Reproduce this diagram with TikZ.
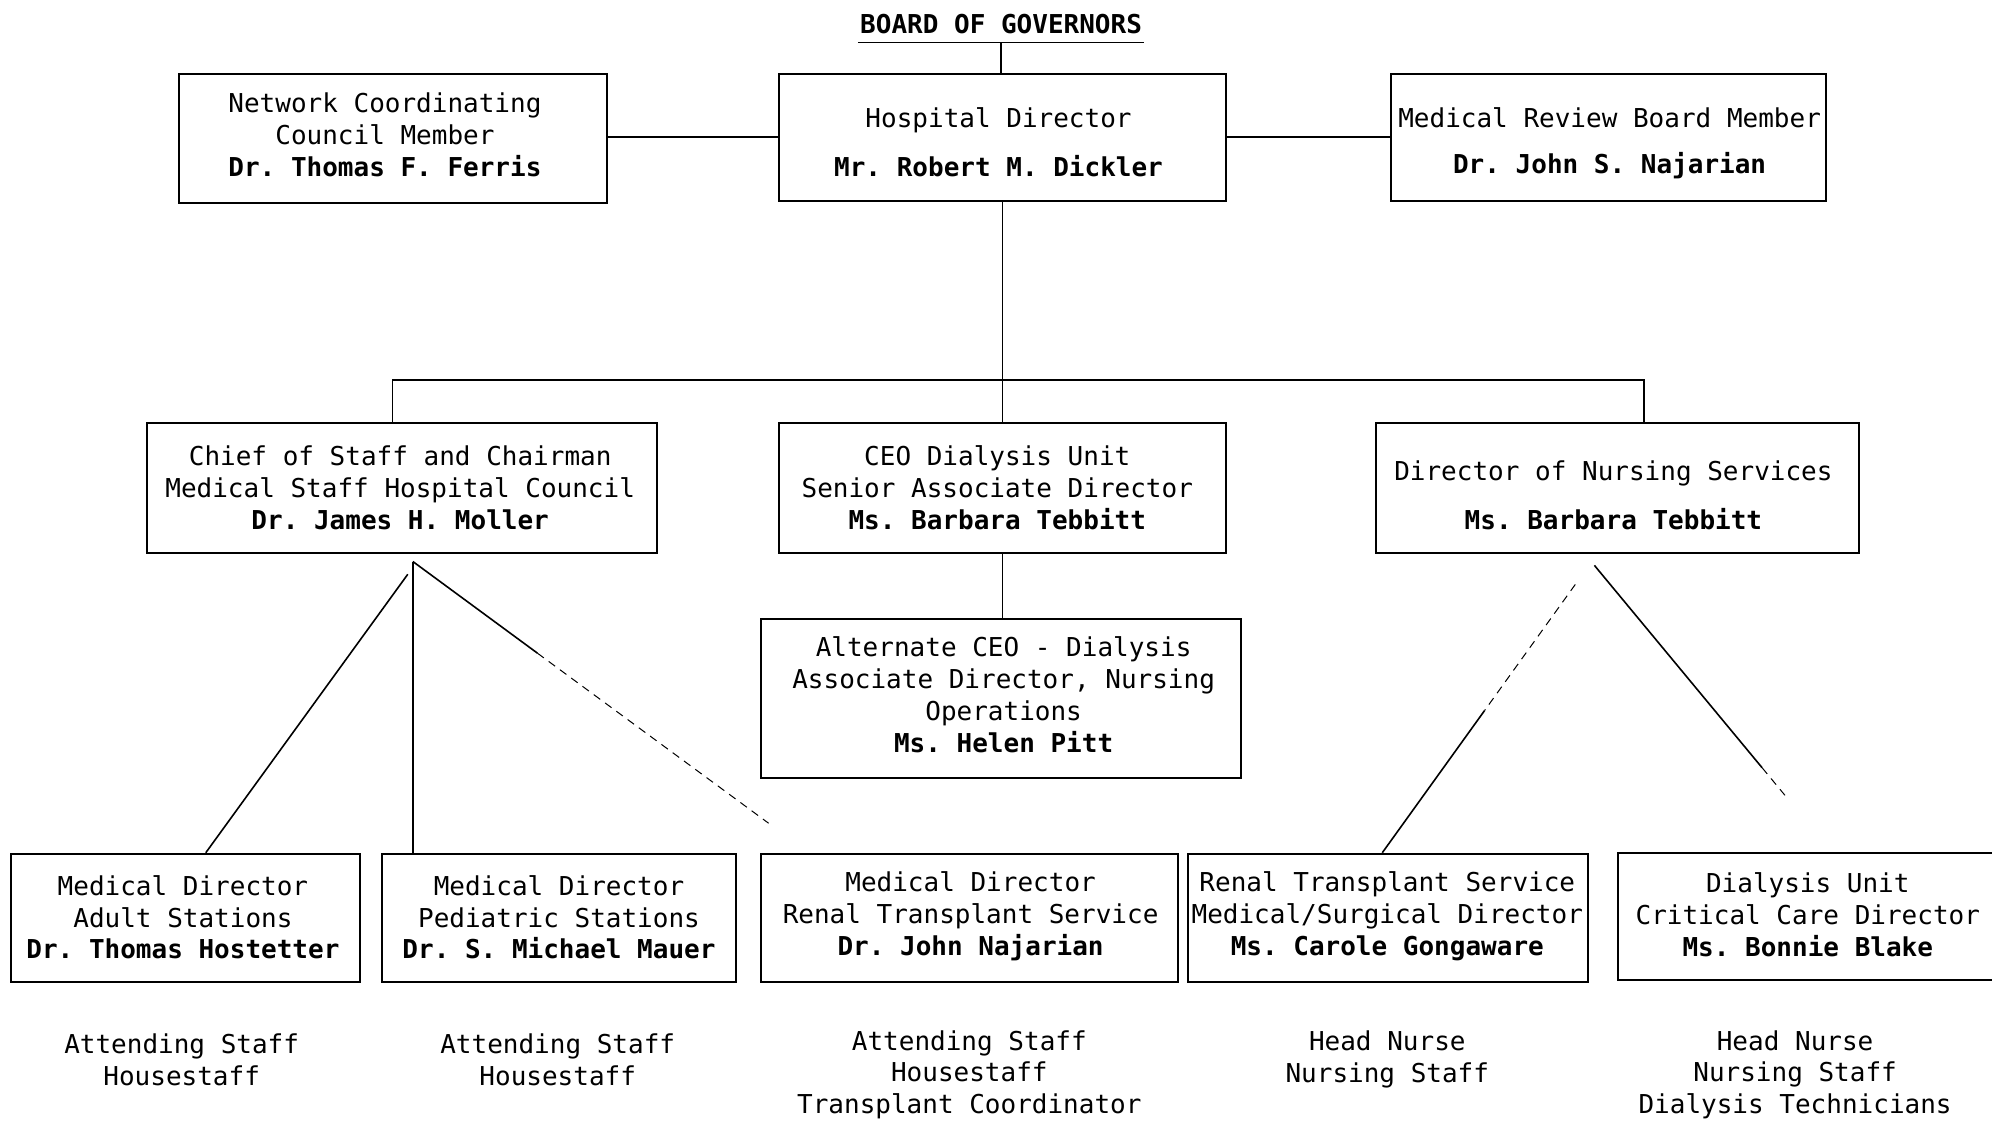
\documentclass[tikz,border=0pt]{standalone}
\usepackage{fontspec}
\newfontfamily\orgmono{DejaVu Sans Mono}
\usetikzlibrary{fit,calc}
\frenchspacing
\tikzset{
  box/.style={draw, line width=1pt, inner sep=0pt},
  txt/.style={align=center, inner sep=0pt, font=\orgmono\fontsize{13}{15.9}\selectfont\frenchspacing},
  link/.style={line width=0.8pt},
  faint/.style={line width=0.5pt, dash pattern=on 4pt off 3pt},
  thinlink/.style={line width=0.45pt},
}
\begin{document}
\begin{tikzpicture}[x=0.6352pt,y=-0.6352pt]
\useasboundingbox (0,0) rectangle (1568,882);

% title
\node[txt, inner xsep=1pt, inner ysep=4pt] (board) at (788,19) {\bfseries BOARD OF GOVERNORS};

% boxes
\node[box, fit={(613,58) (965,158)}] (hd) {};
\node[box, fit={(141,58) (478,160)}] (net) {};
\node[box, fit={(1095,58) (1437,158)}] (mrb) {};
\node[box, fit={(116,333) (517,435)}] (chief) {};
\node[box, fit={(613,333) (965,435)}] (ceo) {};
\node[box, fit={(1083,333) (1463,435)}] (nurse) {};
\node[box, fit={(599,487) (977,612)}] (alt) {};
\node[box, fit={(9,672) (283,773)}] (adult) {};
\node[box, fit={(301,672) (579,773)}] (ped) {};
\node[box, fit={(599,672) (927,773)}] (renmd) {};
\node[box, fit={(935,672) (1250,773)}] (rensv) {};
\node[inner sep=0pt, fit={(1274,672) (1568,771)}] (dial) {};
\draw[line width=1pt] (dial.north east) -- (dial.north west) -- (dial.south west) -- (dial.south east);

% box texts
\node[txt] (net-t) at (303,106) {Network Coordinating\\Council Member\\\textbf{Dr. Thomas F. Ferris}};
\node[txt] (hd-t) at (786,112) {Hospital Director\\[8.3pt]\textbf{Mr. Robert M. Dickler}};
\node[txt] (mrb-t) at (1267,113) {Medical Review Board Member\\[7pt]\textbf{Dr. John S. Najarian}};
\node[txt] (chief-t) at (315,384) {Chief of Staff and Chairman\\Medical Staff Hospital Council\\\textbf{Dr. James H. Moller}};
\node[txt] (ceo-t) at (785,384) {CEO Dialysis Unit\\Senior Associate Director\\\textbf{Ms. Barbara Tebbitt}};
\node[txt] (nurse-t) at (1270,390) {Director of Nursing Services\\[8.3pt]\textbf{Ms. Barbara Tebbitt}};
\node[txt] (alt-t) at (790,547) {Alternate CEO - Dialysis\\Associate Director, Nursing\\Operations\\\textbf{Ms. Helen Pitt}};
\node[txt] (adult-t) at (144,722) {Medical Director\\Adult Stations\\\textbf{Dr. Thomas Hostetter}};
\node[txt] (ped-t) at (440,722) {Medical Director\\Pediatric Stations\\\textbf{Dr. S. Michael Mauer}};
\node[txt] (renmd-t) at (764,721) {Medical Director\\Renal Transplant Service\\\textbf{Dr. John Najarian}};
\node[txt] (rensv-t) at (1092,721) {Renal Transplant Service\\Medical/Surgical Director\\\textbf{Ms. Carole Gongaware}};
\node[txt] (dial-t) at (1423,720) {Dialysis Unit\\Critical Care Director\\\textbf{Ms. Bonnie Blake}};

% staff texts
\node[txt] (s1) at (143,834) {Attending Staff\\Housestaff};
\node[txt] (s2) at (439,834) {Attending Staff\\Housestaff};
\node[txt] (s3) at (763,846) {Attending Staff\\Housestaff\\Transplant Coordinator};
\node[txt] (s4) at (1092,834) {Head Nurse\\Nursing Staff};
\node[txt] (s5) at (1413,846) {Head Nurse\\Nursing Staff\\Dialysis Technicians};

% connectors
\draw[link] (board.south west) -- (board.south east);
\draw[link] (board.south) -- (board.south |- hd.north);
\draw[link] (net.east |- hd.west) -- (hd.west);
\draw[link] (hd.east) -- (hd.east -| mrb.west);
\coordinate (busL) at (309,299);
\coordinate (busR) at (1294,299);
\draw[link] (busL |- chief.north) -- (busL) -- (busR) -- (busR |- nurse.north);
\draw[link] (hd.south) -- (hd.south |- busL);
\draw[thinlink] (hd.south |- busL) -- (ceo.north);
\draw[link] (ceo.south) -- (ceo.south |- alt.north);

% chief fan
\coordinate (capex) at (325,442);
\coordinate (capexL) at (321,452);
\coordinate (cend) at (605,648);
\coordinate (cmid) at ($(capex)!0.35!(cend)$);
\draw[link] (capexL) -- ($(adult.north west)!0.558!(adult.north east)$);
\draw[link] (capex) -- (capex |- ped.north);
\draw[link] (capex) -- (cmid);
\draw[faint] (cmid) -- (cend);

% nursing fan
\coordinate (napex) at (1255,445);
\coordinate (nendR) at (1405,626);
\coordinate (nmidR) at ($(napex)!0.88!(nendR)$);
\draw[link] (napex) -- (nmidR);
\draw[faint] (nmidR) -- (nendR);
\coordinate (ntopL) at (1240,460);
\coordinate (nbotL) at ($(rensv.north west)!0.486!(rensv.north east)$);
\coordinate (nmidL) at ($(ntopL)!0.47!(nbotL)$);
\draw[faint] (ntopL) -- (nmidL);
\draw[link] (nmidL) -- (nbotL);
\end{tikzpicture}
\end{document}
